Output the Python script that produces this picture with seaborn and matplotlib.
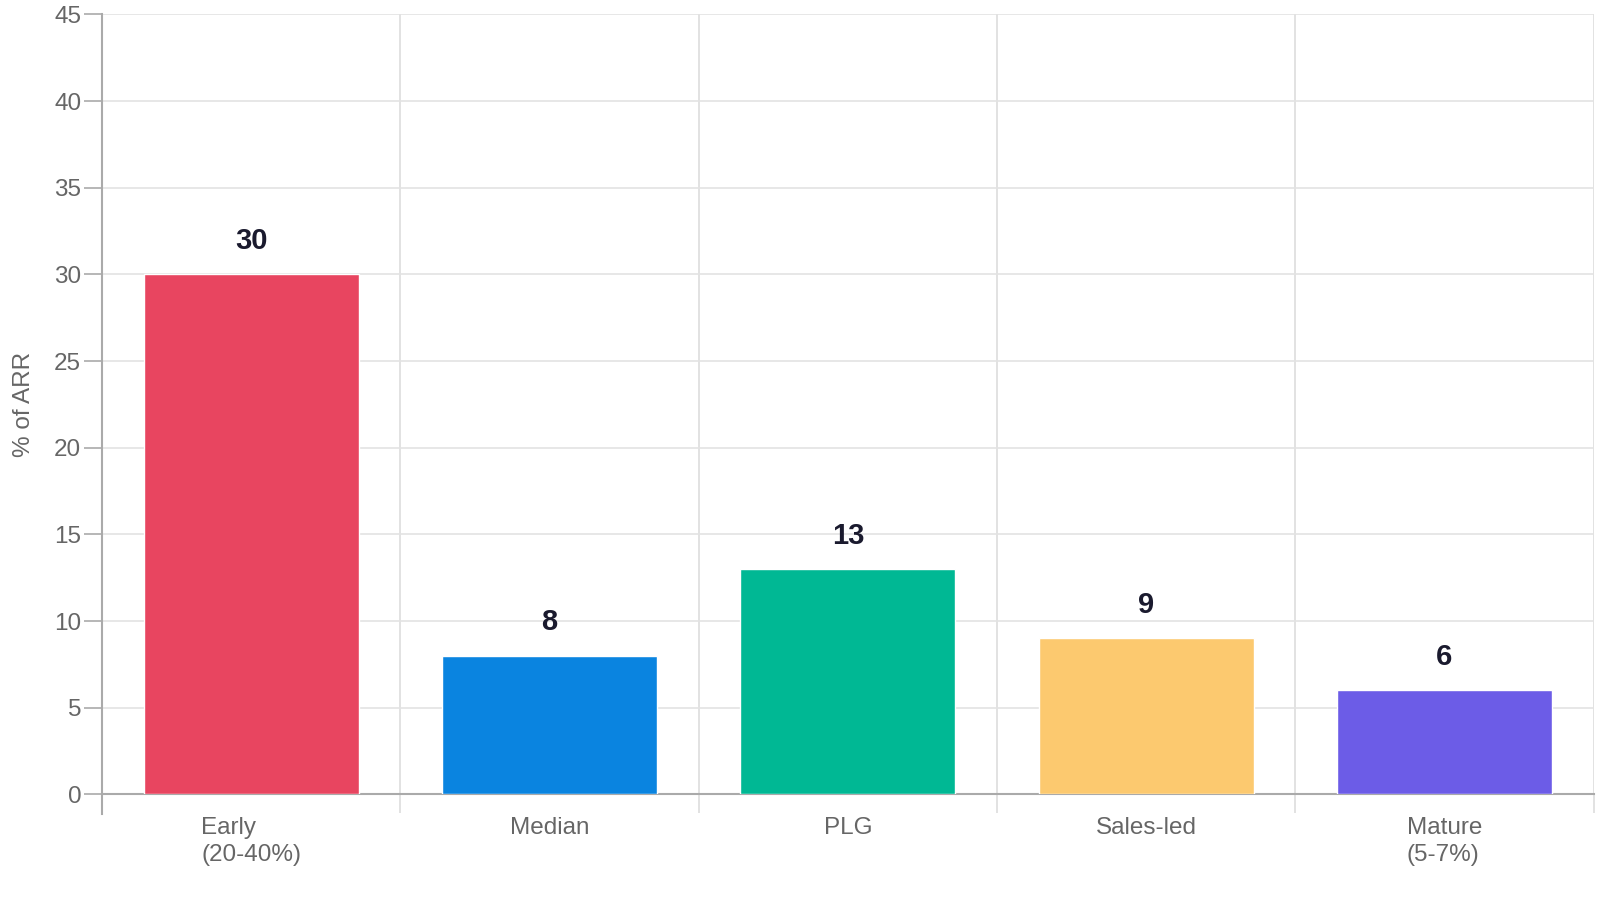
import matplotlib
matplotlib.use("Agg")
import matplotlib.pyplot as plt
import seaborn as sns
import pandas as pd
import numpy as np

# Chart data
categories = ["Early\n(20-40%)", "Median", "PLG", "Sales-led", "Mature\n(5-7%)"]
values = [30, 8, 13, 9, 6]
colors = ["#E84560", "#0A84E0", "#00B894", "#FCC96F", "#6C5CE7"]

df = pd.DataFrame({"category": categories, "value": values})

sns.set_theme(style="white")
plt.rcParams["font.family"] = ["Liberation Sans", "DejaVu Sans"]

fig = plt.figure(figsize=(16, 9), dpi=100)
ax = fig.add_axes([0.0638, 0.1174, 0.9322, 0.8666])

sns.barplot(data=df, x="category", y="value", hue="category", palette=colors,
            legend=False, width=0.72, saturation=1, ax=ax, zorder=3)

# value labels above bars
for i, v in enumerate(values):
    ax.annotate(str(v), (i, v), xytext=(0, 24), textcoords="offset points",
                ha="center", va="center", fontsize=21, fontweight="bold",
                color="#1A1A2E")

ax.set_xlim(-0.5, len(categories) - 0.5)
ax.set_ylim(0, 45)
ax.set_yticks(range(0, 50, 5))

# boundaries between categories as gridlines / ticks
ax.set_xticks(np.arange(-0.5, len(categories), 1), minor=True)
ax.tick_params(axis="x", which="minor", bottom=True, length=14, width=1.2, color="#DDDDDD")
ax.tick_params(axis="x", which="major", bottom=False, length=0, pad=16,
               labelsize=17.5, labelcolor="#666666")
ax.tick_params(axis="y", left=True, length=13, width=1.2, color="#AAAAAA", pad=2,
               labelsize=17.5, labelcolor="#666666")
for lbl in ax.get_xticklabels():
    lbl.set_multialignment("left")
    lbl.set_linespacing(1.3)

ax.grid(axis="y", which="major", color="#E3E3E3", linewidth=1.2, zorder=0)
ax.grid(axis="x", which="minor", color="#DDDDDD", linewidth=1.2, zorder=0)
ax.grid(axis="x", which="major", visible=False)

for side in ["top", "right"]:
    ax.spines[side].set_visible(False)
for side in ["left", "bottom"]:
    ax.spines[side].set_color("#AAAAAA")
    ax.spines[side].set_linewidth(1.5)
ax.spines["left"].set_bounds(-1.15, 45)
ax.spines["left"].set_clip_on(False)

ax.set_xlabel("")
ax.set_ylabel("% of ARR", fontsize=17.5, color="#666666", labelpad=14)

fig.savefig("out.png", dpi=100)
